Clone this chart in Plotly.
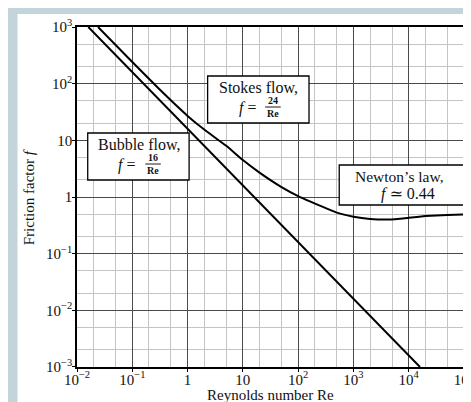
import plotly.graph_objects as go

# ---- data ----
re_bubble = [0.016, 16000]
f_bubble = [1000, 0.001]

re_drag = [0.024, 0.1, 0.3, 1, 2, 5, 10, 20, 50, 100, 260, 500, 1000, 2000, 4500, 10000, 20000, 50000, 100000]
f_drag = [1000, 241, 82, 27, 15.5, 8.0, 4.5, 2.7, 1.5, 1.04, 0.69, 0.53, 0.45, 0.41, 0.40, 0.43, 0.46, 0.48, 0.49]

x_tickvals = [0.01, 0.1, 1, 10, 100, 1000, 10000, 100000]
x_ticktext = ["10<sup>−2</sup>", "10<sup>−1</sup>", "1", "10", "10<sup>2</sup>", "10<sup>3</sup>", "10<sup>4</sup>", "10<sup>5</sup>"]
y_tickvals = [0.001, 0.01, 0.1, 1, 10, 100, 1000]
y_ticktext = ["10<sup>−3</sup>", "10<sup>−2</sup>", "10<sup>−1</sup>", "1", "10", "10<sup>2</sup>", "10<sup>3</sup>"]

x_title = "Reynolds number Re"
y_title = "Friction factor <i>f</i>"

W, H = 471, 402
L, R, T, B = 69, 5, 19, 43
PW, PH = W - L - R, H - T - B
FONT = "Liberation Serif, DejaVu Serif, serif"


def px(xp):
    return (xp - L) / PW


def py(yp):
    return (H - B - yp) / PH


minor_x = [m * 10 ** e for e in range(-2, 5) for m in (2, 5)]
minor_y = [m * 10 ** e for e in range(-3, 3) for m in (2, 5)]

fig = go.Figure()
fig.add_trace(go.Scatter(x=re_drag, y=f_drag, mode="lines", line=dict(color="black", width=2, shape="spline", smoothing=0.3),
                         showlegend=False, hoverinfo="skip"))
fig.add_trace(go.Scatter(x=re_bubble, y=f_bubble, mode="lines", line=dict(color="black", width=2),
                         showlegend=False, hoverinfo="skip"))

shapes = []
# white page over blue-grey background
shapes.append(dict(type="rect", xref="paper", yref="paper", x0=px(8), x1=px(480), y0=py(410), y1=py(6),
                   fillcolor="white", line=dict(width=0), layer="below"))

annotations = []


def box(x0, y0, x1, y1):
    shapes.append(dict(type="rect", xref="paper", yref="paper", x0=px(x0), x1=px(x1), y0=py(y1), y1=py(y0),
                       fillcolor="white", line=dict(color="black", width=1.3), layer="above"))


def text(t, x, y, size=16, anchor="center", angle=0):
    annotations.append(dict(text=t, xref="paper", yref="paper", x=px(x), y=py(y), showarrow=False,
                            xanchor=anchor, yanchor="middle", textangle=angle,
                            font=dict(family=FONT, size=size, color="#111")))


def frac(num, den, x, y):
    text("<b>" + num + "</b>", x, y - 6.5, size=10)
    text("<b>" + den + "</b>", x, y + 6.5, size=10)
    shapes.append(dict(type="line", xref="paper", yref="paper", x0=px(x - 8), x1=px(x + 8), y0=py(y), y1=py(y),
                       line=dict(color="black", width=0.9), layer="above"))


# Bubble flow box
box(80, 125, 184, 172)
text("Bubble flow,", 133, 136)
text("<i>f</i> =", 120, 157)
frac("16", "Re", 147, 156)

# Stokes flow box
box(203, 68, 307, 115)
text("Stokes flow,", 255, 79)
text("<i>f</i> =", 244, 100)
frac("24", "Re", 270, 99)

# Newton's law box
box(338, 157, 466, 197)
text("Newton’s law,", 400, 168, size=15.5)
text("<i>f</i> ≃ 0.44", 409, 186)

# axis titles
text(x_title, 267, 387, size=15)
text(y_title, 20, 189, size=15, angle=-90)

fig.update_layout(
    width=W, height=H,
    margin=dict(l=L, r=R, t=T, b=B),
    paper_bgcolor="#c4d4db",
    plot_bgcolor="white",
    font=dict(family=FONT, size=15, color="#111"),
    shapes=shapes,
    annotations=annotations,
    showlegend=False,
)

axis_common = dict(
    type="log",
    showline=True, linecolor="black", linewidth=1.5, mirror=True,
    showgrid=True, gridcolor="#4a4a4a", gridwidth=1.3,
    ticks="outside", ticklen=3, tickcolor="black",
    zeroline=False,
    ticklabeloverflow="allow",
    tickfont=dict(family=FONT, size=15, color="#111"),
)

fig.update_xaxes(
    **axis_common,
    range=[-2.0004, 5.0004],
    tickvals=x_tickvals, ticktext=x_ticktext,
    ticklabelstandoff=-5,
    minor=dict(tickvals=minor_x, showgrid=True, gridcolor="#c4c4c4", gridwidth=1, ticks=""),
)
fig.update_yaxes(
    **axis_common,
    range=[-3.0004, 3.0004],
    tickvals=y_tickvals, ticktext=y_ticktext,
    ticklabelstandoff=-3,
    minor=dict(tickvals=minor_y, showgrid=True, gridcolor="#c4c4c4", gridwidth=1, ticks=""),
)

fig.write_html("out.html")
